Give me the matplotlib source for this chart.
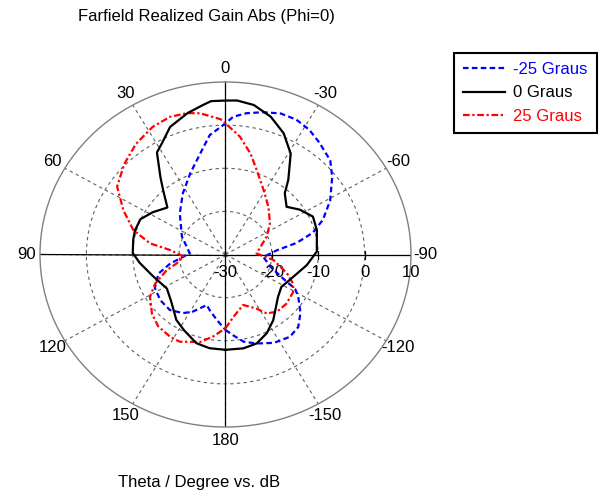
import matplotlib
matplotlib.use('Agg')
import matplotlib.pyplot as plt
import numpy as np

plt.rcParams['font.family'] = ['Liberation Sans', 'DejaVu Sans']

# Theta (deg) and realized gain (dB) for each steering angle
theta_m25 = [-180, -175, -169, -162, -153, -144, -137, -130, -122, -118, -114, -106, -94, -85, -80, -75, -69,
             -61, -52, -46, -38, -32, -26, -20, -14, -8, -3, 0, 7, 13, 22, 33, 46, 66, 88, 100, 107, 117, 127,
             137, 146, 152, 161, 165, 173, 180]
gain_m25 = [-12.5, -11.2, -9.4, -8.3, -7.0, -6.4, -7.0, -8.9, -11.5, -13.0, -16.5, -20.0, -21.8, -18.9, -14.4, -10.5, -7.5,
            -4.2, -0.8, 1.4, 2.9, 4.1, 4.8, 4.8, 4.0, 3.1, 2.0, 0.4, -2.1, -5.9, -9.7, -13.1, -16.3, -19.7, -22.3, -17.9,
            -14.9, -12.9, -12.4, -12.4, -13.6, -15.0, -17.6, -16.7, -14.7, -12.5]

theta_0 = [-180, -170, -162, -154, -146, -131, -122, -111, -98, -88, -74, -65, -57, -50, -42, -38, -31, -24, -17,
           -10, -4, 0, 5, 8, 14, 22, 28, 32, 38, 42, 49, 58, 66, 74, 80, 89, 96, 108, 122, 133, 145, 153, 163,
           171, 180]
gain_0 = [-7.9, -7.9, -8.3, -9.7, -11.6, -15.0, -15.8, -14.7, -12.3, -10.3, -9.5, -9.2, -10.9, -12.8, -10.9, -8.0,
          -2.7, 0.8, 3.4, 5.2, 5.8, 5.7, 5.7, 5.0, 3.8, 1.9, -0.8, -2.1, -7.2, -9.9, -13.4, -11.5, -9.9, -9.7, -9.8,
          -10.0, -11.4, -13.6, -15.1, -14.0, -11.5, -10.3, -8.5, -8.0, -7.9]

theta_p25 = [-180, -173, -162, -152, -147, -140, -131, -121, -115, -108, -97, -88, -65, -53, -40, -29, -19, -13,
             -6.5, 0, 2, 9.5, 14, 20.5, 28, 37, 46, 56, 65, 74, 81, 85, 93, 101, 106, 114, 121, 131, 139, 148,
             154, 165, 172, 180]
gain_p25 = [-12.9, -15.5, -17.7, -15.8, -13.7, -12.7, -12.6, -13.0, -13.9, -16.1, -19.6, -23.3, -20.2, -18.0, -15.6,
            -13.0, -9.3, -6.0, -2.5, 0.4, 1.4, 3.2, 3.8, 4.1, 3.5, 2.1, 0.3, -1.8, -5.7, -9.3, -13.5, -18.0, -20.9,
            -19.3, -16.8, -13.4, -11.0, -9.0, -7.9, -7.5, -7.5, -9.0, -10.8, -12.9]

theta_ticks = [0, 30, 60, 90, 120, 150, 180, 210, 240, 270, 300, 330]
theta_labels = ['0', '30', '60', '90', '120', '150', '180', '-150', '-120', '-90', '-60', '-30']
r_labels = [-30, -20, -10, 0, 10]

fig = plt.figure(figsize=(6, 4.95), dpi=100)
ax = fig.add_axes([40 / 600, 1 - 427 / 495, 371 / 600, 345 / 495], projection='polar')
ax.set_aspect('auto')
ax.set_theta_zero_location('N')
ax.set_theta_direction(1)
ax.set_rlim(-30, 10)

ax.set_thetagrids(theta_ticks, theta_labels, fontsize=12)
ax.set_rgrids([-20, -10, 0], labels=['', '', ''])
ax.grid(True, color='#606060', linestyle=(0, (3, 3)), linewidth=0.8)
ax.tick_params(axis='x', pad=3, length=0)
ax.tick_params(axis='y', length=0)
ax.spines['polar'].set_color('#808080')
ax.spines['polar'].set_linewidth(1.0)

# solid main axes
for t in [0, 90, 180, 270]:
    ax.plot([np.deg2rad(t)] * 2, [-30, 10], color='black', lw=0.9, zorder=2)
ax.plot([np.deg2rad(-90)] * 4, [-20, -10, 0, 10], linestyle='none', marker='|', ms=6, mew=0.9, color='black')

for r in r_labels:
    ax.annotate(str(r), xy=(np.deg2rad(-90), r), xytext=(0, -13.3), textcoords='offset points',
                ha='center', va='center', fontsize=12)

l1, = ax.plot(np.deg2rad(theta_m25), gain_m25, color='blue', lw=1.6, linestyle=(0, (2.5, 1.5)), zorder=3)
l2, = ax.plot(np.deg2rad(theta_0), gain_0, color='black', lw=1.6, zorder=4)
l3, = ax.plot(np.deg2rad(theta_p25), gain_p25, color='red', lw=1.6, linestyle=(0, (3, 1.2, 1, 1.2)), zorder=3)

leg = fig.legend([l1, l2, l3], ['-25 Graus', '0 Graus', '25 Graus'], loc='upper left',
                 bbox_to_anchor=(454 / 600, 1 - 53 / 495), bbox_transform=fig.transFigure,
                 frameon=True, fancybox=False, edgecolor='black', framealpha=1, borderaxespad=0,
                 labelcolor='linecolor', fontsize=12, handlelength=2.5, handletextpad=0.5,
                 borderpad=0.55, labelspacing=0.5)
leg.get_frame().set_linewidth(1.5)

fig.text(78 / 600, 1 - 17 / 495, 'Farfield Realized Gain Abs (Phi=0)', ha='left', va='center', fontsize=12)
fig.text(118 / 600, 1 - 483 / 495, 'Theta / Degree vs. dB', ha='left', va='center', fontsize=12)

fig.savefig('out.png', dpi=100, facecolor='white')
